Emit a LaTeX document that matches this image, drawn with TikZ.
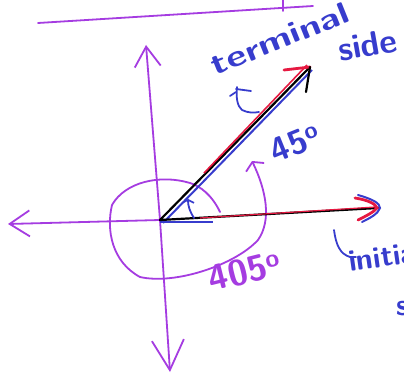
\documentclass[tikz,border=0pt]{standalone}
\usetikzlibrary{arrows.meta,calc}
\definecolor{pen}{RGB}{165,60,225}
\definecolor{bpen}{RGB}{55,60,205}
\definecolor{rpen}{RGB}{230,25,65}
\tikzset{
  axis/.style={pen, line width=1.8pt, line cap=round, line join=round},
  axtip/.style={-{Straight Barb[length=20pt,width=26pt,line width=1.8pt]}},
  ray/.style={black, line width=2.2pt, line cap=round},
  lab/.style={bpen, font=\sffamily\bfseries\fontsize{30}{30}\selectfont, inner sep=0pt},
  hand/.style={bpen, line width=1.8pt, line cap=round, line join=round}
}
\begin{document}
\begin{tikzpicture}[x=1pt,y=-1pt]
\useasboundingbox (0,0) rectangle (404,377);
\clip (0,0) rectangle (404,377);
\fill[white] (0,0) rectangle (404,377);
% named points
\coordinate (O) at (160,220);
\coordinate (T) at (310,67);
\coordinate (I) at (378,208);
\coordinate (Up) at (146,45);
\coordinate (Dn) at (170,372);
\coordinate (Lf) at (8,224);
\coordinate (L1) at (38,23);
\coordinate (L2) at (313,6);
\coordinate (K1) at (283,0);
\coordinate (K2) at (283,11);
% top line and tick
\draw[axis] (L1) -- (L2);
\draw[axis] (K1) -- (K2);
% axes
\draw[axis,axtip] (O) -- (Up);
\draw[axis,-{Straight Barb[length=30pt,width=32pt,line width=1.8pt]}] (O) -- (Dn);
\draw[axis,axtip] (O) -- (Lf);
% 405 degree arc
\draw[axis,-{Straight Barb[length=6pt,width=20pt,line width=1.8pt]}]
  (220,212) .. controls (212,195) and (200,186) .. (190,183)
  .. controls (160,174) and (125,182) .. (112,205)
  .. controls (106,230) and (112,262) .. (140,277)
  .. controls (175,285) and (235,265) .. (258,240)
  .. controls (272,220) and (266,190) .. (252,161);
% terminal side
\draw[bpen, line width=2pt] ($(O)+(3,3)$) -- ($(T)+(2,3)$);
\draw[ray] (O) -- (T);
\draw[rpen, line width=1.6pt] ($(O)!0.3!(T)+(-1,-1)$) -- ($(T)+(-3,-2)$);
\draw[rpen, line width=2.8pt, line cap=round] (T) -- (284,70);
\draw[black, line width=2.2pt, line cap=round] (T) -- (306,92);
% initial side
\draw[bpen, line width=2.4pt] ($(O)+(0,2)$) -- (213,222);
\draw[ray] (O) -- (I);
\draw[rpen, line width=1.2pt] (200,218) -- (375,207);
\draw[bpen, line width=2pt, line cap=round] (358,195) .. controls (372,199) and (380,203) .. (380,208) .. controls (378,214) and (370,218) .. (362,222);
\draw[rpen, line width=2.8pt, line cap=round] (355,198) .. controls (368,200) and (376,204) .. (377,208) .. controls (374,212) and (366,216) .. (358,220);
% 45 degree mark
\draw[hand,-{Straight Barb[length=3pt,width=12pt,line width=1.6pt]}] (194,218) .. controls (190,212) and (188,206) .. (188,199);
% pointer hooks
\draw[hand] (237,87) .. controls (236,97) and (237,106) .. (242,110) .. controls (248,113) and (254,113) .. (259,112);
\draw[hand] (236,89) -- (251,91);
\draw[hand] (230,96) -- (236,92);
\draw[hand] (334,230) .. controls (336,245) and (340,254) .. (350,257) -- (356,257);
% labels
\node[lab, rotate=22, anchor=south west] (term) at (216,76) {\scalebox{1.3}[1]{terminal}};
\node[lab, rotate=10, anchor=south west, font=\sffamily\bfseries\fontsize{34}{34}\selectfont] (side) at (340,62) {side};
\node[lab, rotate=22, anchor=south west, font=\sffamily\bfseries\fontsize{34}{34}\selectfont] (fortyfive) at (276,164) {45\textsuperscript{o}};
\node[lab, pen, rotate=14, anchor=south west, font=\sffamily\bfseries\fontsize{36}{36}\selectfont] (fourohfive) at (212,293) {405\textsuperscript{o}};
\node[lab, rotate=8, anchor=south west] (init) at (350,272) {initial};
\node[lab, anchor=south west] (iside) at (396,316) {side};
\end{tikzpicture}
\end{document}
